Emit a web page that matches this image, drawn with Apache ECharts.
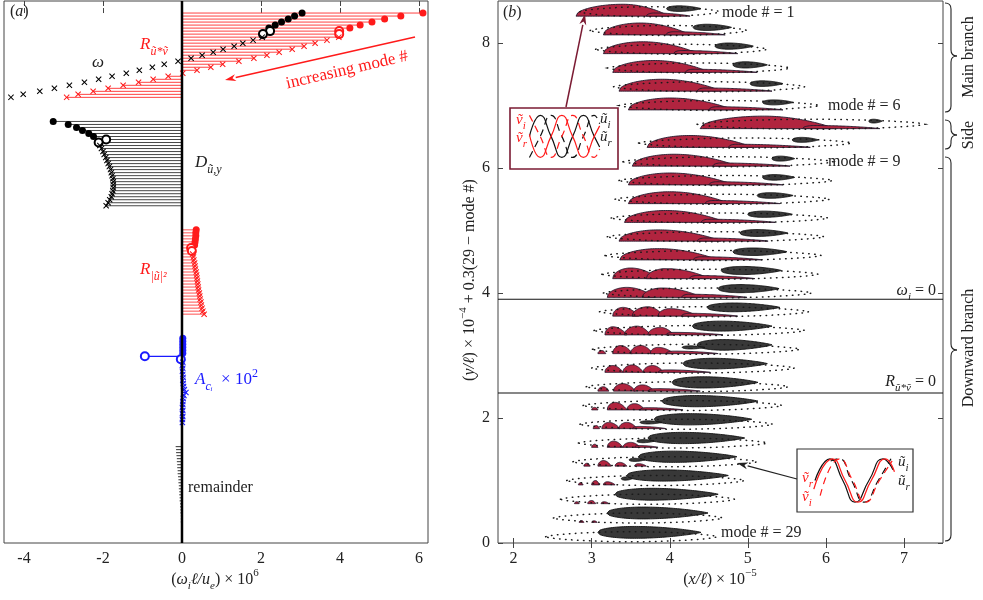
<!DOCTYPE html>
<html>
<head>
<meta charset="utf-8">
<script src="https://cdn.jsdelivr.net/npm/echarts@6.0.0/dist/echarts.min.js"></script>
<style>
html,body{margin:0;padding:0;background:#fff;}
#chart{width:983px;height:600px;}
</style>
</head>
<body>
<div id="chart"></div>
<script>
// Mode numbers, top row first
const modeNumbers = [1,2,3,4,5,6,7,8,9,10,11,12,13,14,15,16,17,18,19,20,21,22,23,24,25,26,27,28,29];
const mainBranch = [1,2,3,4,5,6];
const sideBranch = [7,8];

// Panel (a): growth-rate budget terms, (omega_i l / u_e) x 10^6
const omegaI = [3.04,2.85,2.69,2.52,2.36,2.20,2.23,2.05,2.03,1.80,1.54,1.32,1.04,0.79,0.51,0.23,-0.10,-0.45,-0.75,-1.08,-1.41,-1.77,-2.11,-2.47,-2.85,-3.23,-3.60,-4.02,-4.33];
const prodUV = [6.10,5.54,5.13,4.81,4.51,4.25,3.98,3.98,3.97,3.67,3.37,3.09,2.79,2.46,2.15,1.82,1.44,1.03,0.73,0.38,0.02,-0.35,-0.73,-1.10,-1.49,-1.87,-2.25,-2.63,-2.92];
const dissUY = [-3.26,-2.88,-2.67,-2.52,-2.36,-2.24,-1.92,-2.11,-2.08,-2.04,-2.00,-1.97,-1.93,-1.90,-1.87,-1.84,-1.81,-1.79,-1.77,-1.75,-1.74,-1.74,-1.74,-1.75,-1.77,-1.79,-1.83,-1.87,-1.92];
const prodUU = [0.36,0.35,0.35,0.34,0.33,0.32,0.23,0.25,0.27,0.29,0.30,0.32,0.33,0.34,0.36,0.37,0.38,0.39,0.40,0.41,0.42,0.44,0.45,0.46,0.48,0.49,0.51,0.53,0.56];
const convACi = [0.02,0.02,0.02,0.02,0.02,0.02,-0.94,-0.03,0.02,0.01,0.02,0.01,0.02,0.03,0.02,0.03,0.04,0.06,0.10,0.05,0.03,0.02,0.02,0.01,0.02,0.01,0.02,0.01,0.01];
const remainderTerm = [-0.16,-0.15,-0.15,-0.14,-0.13,-0.13,-0.12,-0.12,-0.11,-0.11,-0.10,-0.09,-0.09,-0.08,-0.08,-0.07,-0.07,-0.06,-0.06,-0.05,-0.05,-0.04,-0.04,-0.03,-0.03,-0.03,-0.02,-0.02,-0.01];

const xTicksA = [-4,-2,0,2,4,6];
const xTicksB = [2,3,4,5,6,7];
const yTicksB = [0,2,4,6,8];

// Panel (b): eigenfunction footprints of each mode
// red regions: [x start, x of crest, x end, height]
const redLobes = [
  [[2.80,3.40,3.98,0.19],[3.70,3.80,4.26,0.05]],
  [[3.15,3.62,4.25,0.19],[3.95,4.05,4.71,0.05]],
  [[3.15,3.65,4.35,0.19],[4.05,4.15,4.87,0.05]],
  [[3.27,3.80,4.50,0.19],[4.20,4.30,5.12,0.05]],
  [[3.35,3.90,4.65,0.19],[4.35,4.45,5.31,0.05]],
  [[3.47,4.00,4.80,0.19],[4.50,4.60,5.45,0.05]],
  [[4.39,5.20,6.10,0.20],[5.70,5.85,6.69,0.05]],
  [[3.71,4.25,5.05,0.19],[4.75,4.85,5.80,0.05]],
  [[3.52,4.05,4.85,0.19],[4.55,4.65,5.54,0.05]],
  [[3.47,4.00,4.80,0.19],[4.50,4.60,5.45,0.05]],
  [[3.47,4.00,4.75,0.19],[4.45,4.55,5.41,0.05]],
  [[3.42,3.95,4.70,0.19],[4.40,4.50,5.35,0.05]],
  [[3.35,3.85,4.65,0.18],[4.35,4.45,5.26,0.05]],
  [[3.36,3.85,4.60,0.18],[4.30,4.40,5.18,0.05]],
  [[3.27,3.50,3.85,0.17],[3.70,3.95,4.50,0.16],[4.25,4.35,5.09,0.05]],
  [[3.20,3.45,3.80,0.16],[3.65,3.90,4.40,0.15],[4.15,4.25,4.99,0.05]],
  [[3.27,3.40,3.60,0.14],[3.52,3.72,3.92,0.15],[3.85,4.00,4.35,0.12],[4.15,4.25,4.87,0.045]],
  [[3.17,3.27,3.45,0.13],[3.42,3.58,3.75,0.14],[3.72,3.88,4.05,0.12],[3.95,4.05,4.68,0.04]],
  [[3.08,3.13,3.18,0.05],[3.27,3.37,3.52,0.13],[3.50,3.63,3.78,0.13],[3.75,3.85,4.05,0.10],[3.95,4.05,4.62,0.04]],
  [[3.17,3.27,3.40,0.11],[3.40,3.52,3.66,0.12],[3.66,3.78,3.92,0.11],[3.85,3.95,4.52,0.04]],
  [[3.08,3.15,3.22,0.07],[3.28,3.40,3.56,0.12],[3.54,3.65,3.80,0.10],[3.72,3.82,4.39,0.04]],
  [[3.00,3.04,3.08,0.04],[3.20,3.30,3.45,0.12],[3.45,3.55,3.68,0.10],[3.62,3.70,4.17,0.035]],
  [[3.02,3.06,3.10,0.05],[3.13,3.22,3.36,0.10],[3.35,3.45,3.58,0.10],[3.52,3.60,3.95,0.035]],
  [[3.00,3.04,3.08,0.05],[3.20,3.28,3.40,0.10],[3.40,3.50,3.62,0.08],[3.55,3.60,3.85,0.03]],
  [[2.90,2.94,2.98,0.045],[3.08,3.15,3.25,0.09],[3.30,3.36,3.45,0.06],[3.55,3.60,3.70,0.04]],
  [[2.83,2.86,2.89,0.035],[3.00,3.05,3.10,0.07],[3.15,3.20,3.30,0.05]],
  [[2.78,2.81,2.84,0.03],[2.95,3.00,3.05,0.05],[3.12,3.16,3.22,0.03]],
  [[2.84,2.87,2.90,0.03],[3.00,3.03,3.07,0.025]],
  []
];
// dark regions: [x start, x end, centre above baseline, half thickness]
const blackLobes = [
  [[3.96,4.40,0.15,0.045]],
  [[4.30,4.79,0.15,0.05]],
  [[4.58,5.07,0.15,0.05]],
  [[4.81,5.25,0.15,0.05]],
  [[5.03,5.45,0.15,0.045]],
  [[5.19,5.58,0.15,0.04]],
  [[6.55,6.72,0.15,0.03]],
  [[5.57,5.90,0.15,0.04]],
  [[5.31,5.60,0.15,0.04]],
  [[5.19,5.60,0.15,0.045]],
  [[5.12,5.58,0.16,0.045]],
  [[5.00,5.57,0.16,0.05]],
  [[4.90,5.51,0.16,0.055]],
  [[4.81,5.50,0.16,0.06]],
  [[4.66,5.43,0.16,0.065]],
  [[4.62,5.40,0.17,0.065]],
  [[4.48,5.41,0.17,0.07]],
  [[4.29,5.31,0.17,0.08]],
  [[4.35,5.31,0.17,0.085],[4.16,4.45,0.13,0.025]],
  [[4.17,5.25,0.17,0.085]],
  [[4.03,5.13,0.17,0.09]],
  [[3.90,5.13,0.17,0.09]],
  [[3.80,5.05,0.18,0.09],[3.62,3.90,0.13,0.025]],
  [[3.72,4.96,0.18,0.09],[3.58,3.80,0.13,0.025]],
  [[3.60,4.86,0.18,0.09],[3.48,3.68,0.13,0.025]],
  [[3.45,4.75,0.18,0.09],[3.38,3.52,0.13,0.025]],
  [[3.30,4.62,0.18,0.095]],
  [[3.20,4.49,0.18,0.095]],
  [[3.08,4.40,0.17,0.095]]
];
// dotted outer contour: [x start, x end]
const envelope = [
  [2.85,4.64],[2.98,4.99],[3.05,5.25],[3.20,5.54],[3.28,5.73],[3.35,5.92],[4.35,7.27],[3.60,6.33],
  [3.40,6.09],[3.35,6.09],[3.30,6.05],[3.25,6.03],[3.20,5.98],[3.17,5.94],[3.13,5.90],[3.15,5.82],
  [3.10,5.78],[3.03,5.73],[3.01,5.67],[3.00,5.60],[2.93,5.52],[2.89,5.44],[2.85,5.32],[2.83,5.25],
  [2.76,5.12],[2.68,4.96],[2.60,4.83],[2.51,4.68],[2.41,4.61]
];
const omegaZeroLevel = 3.9;
const reynoldsZeroLevel = 2.4;

// Inset sketches of the wall-normal structure (phase, amplitude)
const insetTopUi = [[1.8,0],[2.8,1],[3.8,0],[4.8,-1],[5.8,0],[6.8,1],[7.8,0],[8.3,-0.5]];
const insetTopUr = [[1.8,-1],[2.8,0],[3.8,1],[4.8,0],[5.8,-1],[6.8,0],[7.8,1],[8.3,0.6]];
const insetTopVi = [[1.8,0.1],[2.8,-1],[3.8,0],[4.8,1],[5.8,0],[6.8,-1],[7.8,0],[8.3,0.5]];
const insetTopVr = [[1.8,1],[2.8,0],[3.8,-1],[4.8,0],[5.8,1],[6.8,0],[7.8,-1],[8.3,-0.6]];
const insetBotUi = [[1.55,0],[2.84,1],[3.95,0],[5.0,-1],[6.2,0],[7.41,1],[8.27,0.5]];
const insetBotVr = [[1.45,-0.4],[3.05,1],[4.15,0],[5.25,-1],[6.40,0],[7.62,1],[8.40,0.4]];
const insetBotUr = [[2.9,0.9],[3.6,1],[4.7,0],[5.8,-1],[7.0,0],[8.1,1]];
const insetBotVi = [[2.0,-0.7],[3.7,1],[4.8,0],[5.9,-1],[7.1,0],[8.2,0.9]];

const SERIF = '"Liberation Serif","DejaVu Serif",serif';
const RED = '#ff1a1a';
const BLUE = '#1a1aff';
const CROSS = 'path://M0,1.2L1.2,0L5,3.8L8.8,0L10,1.2L6.2,5L10,8.8L8.8,10L5,6.2L1.2,10L0,8.8L3.8,5Z';
const GROUP_STRIDE = 36;

function markerFor(k) {
  if (mainBranch.includes(k)) return { symbol: 'circle', symbolSize: 7 };
  if (sideBranch.includes(k)) return { symbol: 'emptyCircle', symbolSize: 8 };
  return { symbol: CROSS, symbolSize: 6 };
}

function stemSeries(values, group, color, width) {
  return {
    type: 'custom', xAxisIndex: 0, yAxisIndex: 0, silent: true, animation: false,
    data: values.map((v, i) => [v, group * GROUP_STRIDE + i]),
    renderItem: (p, api) => {
      const a = api.coord([0, api.value(1)]);
      const b = api.coord([api.value(0), api.value(1)]);
      return { type: 'line', shape: { x1: a[0], y1: a[1], x2: b[0], y2: b[1] }, style: { stroke: color, lineWidth: width } };
    }
  };
}

function markerSeries(values, group, color) {
  return {
    type: 'scatter', xAxisIndex: 0, yAxisIndex: 0, silent: true, animation: false, z: 5,
    data: values.map((v, i) => {
      const m = markerFor(modeNumbers[i]);
      return {
        value: [v, group * GROUP_STRIDE + i], symbol: m.symbol, symbolSize: m.symbolSize,
        itemStyle: { color: color, opacity: 1, borderColor: color, borderWidth: m.symbol === 'emptyCircle' ? 1.2 : 0 }
      };
    })
  };
}

function lobeHeight(x, l) {
  if (x <= l[0] || x >= l[2]) return 0;
  if (x <= l[1]) { const t = (x - l[0]) / (l[1] - l[0]); return l[3] * Math.pow(Math.sin(t * Math.PI / 2), 0.45); }
  const t = (x - l[1]) / (l[2] - l[1]);
  return l[3] * Math.pow(Math.cos(t * Math.PI / 2), 0.8);
}
function bodyProfile(t) {
  return t < 0.35 ? Math.pow(Math.sin(t / 0.35 * Math.PI / 2), 0.4) : Math.pow(Math.cos((t - 0.35) / 0.65 * Math.PI / 2), 0.8);
}

function footprintItem(params, api) {
  const i = params.dataIndex;
  const k = api.value(0);
  const base = 0.3 * (29 - k);
  const P = (x, y) => api.coord([x, y]);
  const kids = [];
  const n = 56;
  redLobes[i].forEach(l => {
    const top = [], bot = [];
    for (let j = 0; j <= n; j++) {
      const x = l[0] + (l[2] - l[0]) * j / n;
      top.push(P(x, base + 0.03 + lobeHeight(x, l)));
      bot.push(P(x, base + 0.03));
    }
    kids.push({ type: 'polygon', shape: { points: top.concat(bot.reverse()) },
      style: { fill: '#b1243f', stroke: '#24182c', lineWidth: 0.9 } });
  });
  blackLobes[i].forEach(b => {
    const top = [], bot = [];
    for (let j = 0; j <= n; j++) {
      const t = j / n, x = b[0] + (b[1] - b[0]) * t, h = b[3] * bodyProfile(t);
      top.push(P(x, base + b[2] + h));
      bot.push(P(x, base + b[2] - h));
    }
    kids.push({ type: 'polygon', shape: { points: top.concat(bot.reverse()) },
      style: { fill: '#383838', stroke: '#111', lineWidth: 0.9 } });
  });
  const e = envelope[i];
  const ring = [], lower = [];
  for (let j = 0; j <= n; j++) {
    const t = j / n, x = e[0] + (e[1] - e[0]) * t, h = 0.08 * Math.pow(Math.sin(Math.PI * t), 0.6);
    ring.push(P(x, base + 0.1 + h));
    lower.push(P(x, base + 0.1 - h));
  }
  kids.push({ type: 'polygon', shape: { points: ring.concat(lower.reverse()) },
    style: { fill: null, stroke: '#1a1a1a', lineWidth: 1.5, lineDash: [0.5, 5.5], lineCap: 'round' } });
  return { type: 'group', children: kids };
}

function rich(color, size) {
  return {
    r: { fill: color, fontFamily: SERIF, fontSize: size, lineHeight: size + 8, verticalAlign: 'middle' },
    i: { fill: color, fontFamily: SERIF, fontSize: size, fontStyle: 'italic', lineHeight: size + 8, verticalAlign: 'middle' },
    s: { fill: color, fontFamily: SERIF, fontSize: Math.round(size * 0.7), fontStyle: 'italic', lineHeight: Math.round(size * 0.7), verticalAlign: 'bottom' },
    p: { fill: color, fontFamily: SERIF, fontSize: Math.round(size * 0.7), lineHeight: Math.round(size * 0.7), verticalAlign: 'top' }
  };
}
function label(x, y, text, color, size, align, rotation) {
  return {
    type: 'text', x: x, y: y, rotation: rotation || 0, silent: true, z: 20,
    style: { text: text, rich: rich(color, size), fill: color, font: size + 'px ' + SERIF,
      align: align || 'left', verticalAlign: 'middle', textAlign: align || 'left', textVerticalAlign: 'middle' }
  };
}
function arrow(x1, y1, x2, y2, color, width) {
  const ang = Math.atan2(y2 - y1, x2 - x1), L = 11, W = 3.5;
  const bx = x2 - L * Math.cos(ang), by = y2 - L * Math.sin(ang);
  const px = -Math.sin(ang) * W, py = Math.cos(ang) * W;
  return [
    { type: 'line', silent: true, z: 20, shape: { x1: x1, y1: y1, x2: bx, y2: by }, style: { stroke: color, lineWidth: width } },
    { type: 'polygon', silent: true, z: 20, shape: { points: [[x2, y2], [bx + px, by + py], [bx + 0.3 * Math.cos(ang) * L, by + 0.3 * Math.sin(ang) * L], [bx - px, by - py]] }, style: { fill: color } }
  ];
}
// curly brace opening to the left, tip pointing right
function brace(x, y0, y1, ym) {
  const d = 6, w = 6, st = { fill: null, stroke: '#222', lineWidth: 1.1 };
  const q = (a, b, c) => ({ type: 'bezierCurve', silent: true, z: 20, shape: { x1: a[0], y1: a[1], cpx1: b[0], cpy1: b[1], x2: c[0], y2: c[1] }, style: st });
  const ln = (a, b) => ({ type: 'line', silent: true, z: 20, shape: { x1: a[0], y1: a[1], x2: b[0], y2: b[1] }, style: st });
  return [
    q([x, y0], [x + w, y0], [x + w, y0 + d]),
    ln([x + w, y0 + d], [x + w, ym - d]),
    q([x + w, ym - d], [x + w, ym], [x + 2 * w, ym]),
    q([x + 2 * w, ym], [x + w, ym], [x + w, ym + d]),
    ln([x + w, ym + d], [x + w, y1 - d]),
    q([x + w, y1 - d], [x + w, y1], [x, y1])
  ];
}

const axisLabelStyle = { fontFamily: SERIF, fontSize: 16, color: '#222' };
const tickStyle = { inside: true, length: 5, lineStyle: { color: '#444', width: 1 } };

const chart = echarts.init(document.getElementById('chart'), null, { renderer: 'canvas' });

const option = {
  animation: false,
  backgroundColor: '#fff',
  grid: [
    { left: 4, top: 1, width: 424, height: 542, show: true, borderColor: '#444', borderWidth: 1, backgroundColor: 'transparent' },
    { left: 498, top: 1, width: 445, height: 542, show: true, borderColor: '#444', borderWidth: 1, backgroundColor: 'transparent' },
    { left: 510, top: 108, width: 108, height: 61, show: true, borderColor: '#7b1b33', borderWidth: 1.6, backgroundColor: '#fff', z: 3 },
    { left: 797, top: 449, width: 116, height: 63, show: true, borderColor: '#333', borderWidth: 1.2, backgroundColor: '#fff', z: 3 }
  ],
  xAxis: [
    { gridIndex: 0, type: 'value', min: -4.506, max: 6.228, position: 'bottom', axisLine: { show: false },
      axisTick: Object.assign({ customValues: xTicksA }, tickStyle),
      axisLabel: Object.assign({ customValues: xTicksA, margin: 8 }, axisLabelStyle), splitLine: { show: false } },
    { gridIndex: 0, type: 'value', min: -4.506, max: 6.228, position: 'top', axisLine: { show: false },
      axisTick: Object.assign({ customValues: xTicksA }, tickStyle), axisLabel: { show: false }, splitLine: { show: false } },
    { gridIndex: 1, type: 'value', min: 1.80, max: 7.50, position: 'bottom', axisLine: { show: false },
      axisTick: Object.assign({ customValues: xTicksB }, tickStyle),
      axisLabel: Object.assign({ customValues: xTicksB, margin: 8 }, axisLabelStyle), splitLine: { show: false } },
    { gridIndex: 1, type: 'value', min: 1.80, max: 7.50, position: 'top', axisLine: { show: false },
      axisTick: Object.assign({ customValues: xTicksB }, tickStyle), axisLabel: { show: false }, splitLine: { show: false } },
    { gridIndex: 2, type: 'value', min: 0, max: 10, show: false },
    { gridIndex: 3, type: 'value', min: 0, max: 10, show: false }
  ],
  yAxis: [
    { gridIndex: 0, type: 'value', min: -4, max: 176, inverse: true, show: false },
    { gridIndex: 1, type: 'value', min: 0, max: 8.672, position: 'left', axisLine: { show: false },
      axisTick: Object.assign({ customValues: yTicksB }, tickStyle),
      axisLabel: Object.assign({ customValues: yTicksB, margin: 8 }, axisLabelStyle), splitLine: { show: false } },
    { gridIndex: 1, type: 'value', min: 0, max: 8.672, position: 'right', axisLine: { show: false },
      axisTick: Object.assign({ customValues: yTicksB }, tickStyle), axisLabel: { show: false }, splitLine: { show: false } },
    { gridIndex: 2, type: 'value', min: -1.55, max: 1.35, show: false },
    { gridIndex: 3, type: 'value', min: -1.45, max: 1.45, show: false }
  ],
  series: [
    // panel (a) stems and markers
    stemSeries(prodUV, 0, '#ff4040', 1),
    markerSeries(prodUV, 0, RED),
    markerSeries(omegaI, 0, '#000'),
    stemSeries(dissUY, 1, '#474747', 1),
    markerSeries(dissUY, 1, '#000'),
    stemSeries(prodUU, 2, '#ff5050', 1),
    markerSeries(prodUU, 2, RED),
    stemSeries(convACi, 3, BLUE, 1.2),
    markerSeries(convACi, 3, BLUE),
    stemSeries(remainderTerm, 4, '#333', 1),
    { type: 'line', xAxisIndex: 0, yAxisIndex: 0, data: [[0, -4], [0, 176]], symbol: 'none', silent: true, z: 6,
      lineStyle: { color: '#000', width: 2.5 } },
    // panel (b) mode footprints
    { type: 'custom', xAxisIndex: 2, yAxisIndex: 1, silent: true, clip: true,
      data: modeNumbers.map(k => [k]), renderItem: footprintItem },
    { type: 'line', xAxisIndex: 2, yAxisIndex: 1, symbol: 'none', silent: true,
      data: [[1.80, omegaZeroLevel], [7.50, omegaZeroLevel]], lineStyle: { color: '#111', width: 1.1 } },
    { type: 'line', xAxisIndex: 2, yAxisIndex: 1, symbol: 'none', silent: true,
      data: [[1.80, reynoldsZeroLevel], [7.50, reynoldsZeroLevel]], lineStyle: { color: '#111', width: 1.1 } },
    // insets
    { type: 'line', xAxisIndex: 4, yAxisIndex: 3, smooth: 0.55, symbol: 'none', silent: true, z: 4, data: insetTopUi, lineStyle: { color: '#111', width: 1.2 } },
    { type: 'line', xAxisIndex: 4, yAxisIndex: 3, smooth: 0.55, symbol: 'none', silent: true, z: 4, data: insetTopUr, lineStyle: { color: '#111', width: 1.2, type: [7, 5] } },
    { type: 'line', xAxisIndex: 4, yAxisIndex: 3, smooth: 0.55, symbol: 'none', silent: true, z: 4, data: insetTopVi, lineStyle: { color: RED, width: 1.2 } },
    { type: 'line', xAxisIndex: 4, yAxisIndex: 3, smooth: 0.55, symbol: 'none', silent: true, z: 4, data: insetTopVr, lineStyle: { color: RED, width: 1.2, type: [7, 5] } },
    { type: 'line', xAxisIndex: 5, yAxisIndex: 4, smooth: 0.55, symbol: 'none', silent: true, z: 4, data: insetBotUi, lineStyle: { color: '#111', width: 1.2 } },
    { type: 'line', xAxisIndex: 5, yAxisIndex: 4, smooth: 0.55, symbol: 'none', silent: true, z: 4, data: insetBotUr, lineStyle: { color: '#111', width: 1.2, type: [7, 5] } },
    { type: 'line', xAxisIndex: 5, yAxisIndex: 4, smooth: 0.55, symbol: 'none', silent: true, z: 4, data: insetBotVr, lineStyle: { color: RED, width: 1.3 } },
    { type: 'line', xAxisIndex: 5, yAxisIndex: 4, smooth: 0.55, symbol: 'none', silent: true, z: 4, data: insetBotVi, lineStyle: { color: RED, width: 1.2, type: [7, 5] } }
  ],
  graphic: [].concat(
    [
      label(10, 12, '{r|(}{i|a}{r|)}', '#222', 16),
      label(140, 45, '{i|R}{s|ũ*ṽ}', RED, 17),
      label(92, 63, '{i|ω}', '#222', 17),
      label(195, 163, '{i|D}{s|ũ,y}', '#222', 17),
      label(140, 270, '{i|R}{s||ũ|²}', RED, 17),
      label(195, 380, '{i|A}{s|c}{s|ᵢ}{r|  × 10}{p|2}', BLUE, 17),
      label(188, 488, '{r|remainder}', '#222', 16),
      { type: 'text', x: 347, y: 70, rotation: 0.227, silent: true, z: 20,
        style: { text: 'increasing mode #', font: '17px ' + SERIF, fill: RED, align: 'center', verticalAlign: 'middle', textAlign: 'center', textVerticalAlign: 'middle' } },
      label(215, 580, '{r|(}{i|ω}{s|i}{i|ℓ/u}{s|e}{r|) × 10}{p|6}', '#222', 16, 'center'),
      label(503, 13, '{r|(}{i|b}{r|)}', '#222', 16),
      label(722, 13, '{r|mode # = 1}', '#222', 16),
      label(828, 106, '{r|mode # = 6}', '#222', 16),
      label(828, 162, '{r|mode # = 9}', '#222', 16),
      label(721, 533, '{r|mode # = 29}', '#222', 16),
      label(936, 291, '{i|ω}{s|i}{r| = 0}', '#222', 16, 'right'),
      label(936, 382, '{i|R}{s|ũ*ṽ}{r| = 0}', '#222', 16, 'right'),
      label(720, 580, '{r|(}{i|x/ℓ}{r|) × 10}{p|−5}', '#222', 16, 'center'),
      label(470, 280, '{r|(}{i|y/ℓ}{r|) × 10}{p|−4}{r| + 0.3(29 − mode #)}', '#222', 16, 'center', Math.PI / 2),
      label(969, 57, '{r|Main branch}', '#222', 16, 'center', Math.PI / 2),
      label(969, 135, '{r|Side}', '#222', 16, 'center', Math.PI / 2),
      label(969, 348, '{r|Downward branch}', '#222', 16, 'center', Math.PI / 2),
      label(516, 120, '{i|ṽ}{s|i}', RED, 15),
      label(516, 138, '{i|ṽ}{s|r}', RED, 15),
      label(600, 119, '{i|ũ}{s|i}', '#222', 15),
      label(600, 137, '{i|ũ}{s|r}', '#222', 15),
      label(802, 478, '{i|ṽ}{s|r}', RED, 15),
      label(802, 497, '{i|ṽ}{s|i}', RED, 15),
      label(898, 462, '{i|ũ}{s|i}', '#222', 15),
      label(898, 481, '{i|ũ}{s|r}', '#222', 15)
    ],
    brace(945, 3, 112, 56),
    brace(945, 120, 149, 135),
    brace(945, 157, 541, 350),
    arrow(415, 37, 225, 80, RED, 1.5),
    arrow(566, 107, 585, 14, '#7b1b33', 1.5),
    arrow(797, 479, 737, 463, '#222', 1.2)
  )
};
chart.setOption(option);
</script>
</body>
</html>
